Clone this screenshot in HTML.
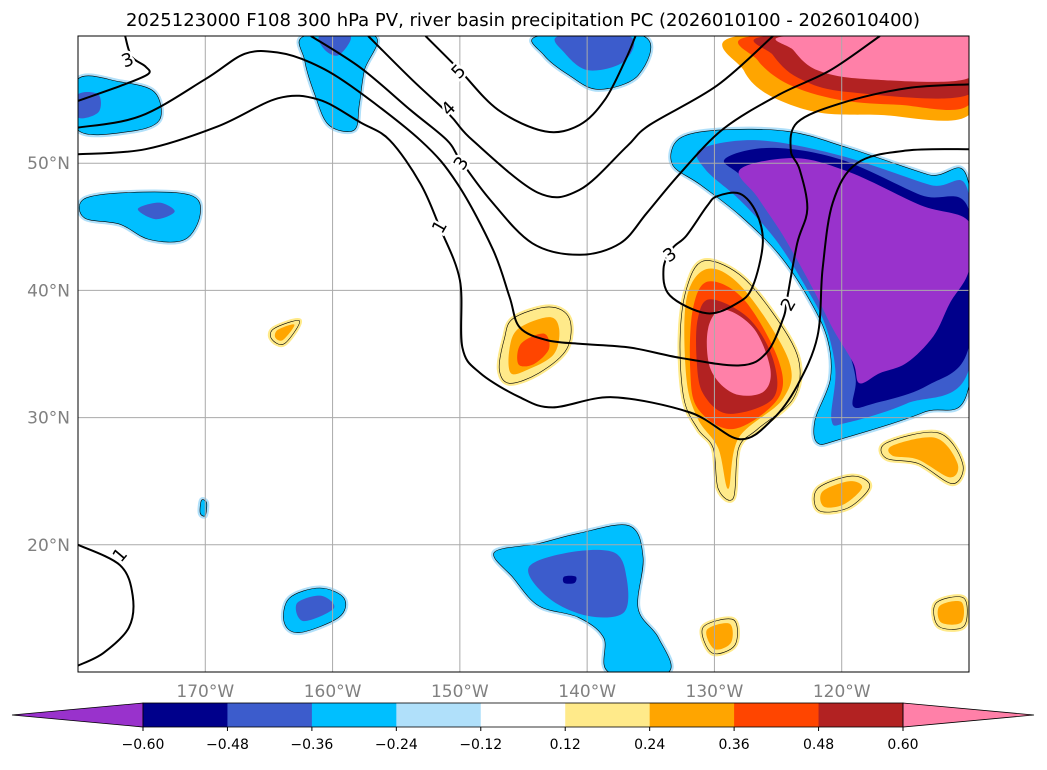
<!DOCTYPE html>
<html><head><meta charset="utf-8"><style>
body{margin:0;background:#fff;font-family:"Liberation Sans",sans-serif;}
svg text{font-family:"DejaVu Sans","Liberation Sans",sans-serif;}
</style></head><body>
<svg id="chart" width="1047" height="765" viewBox="0 0 1047 765" xmlns="http://www.w3.org/2000/svg">
<text x="523" y="26" text-anchor="middle" font-size="18" fill="#000">2025123000 F108 300 hPa PV, river basin precipitation PC (2026010100 - 2026010400)</text>
<defs><clipPath id="mc"><rect x="78" y="36" width="891" height="636"/></clipPath></defs>
<g id="fills" clip-path="url(#mc)"></g>
<g id="grid"></g>
<g id="pv" clip-path="url(#mc)"></g>
<rect x="78" y="36" width="891" height="636" fill="none" stroke="#000" stroke-width="1"/>
<g id="labels"></g>
<g id="cbar"></g>
</svg>
<script>
const NS='http://www.w3.org/2000/svg';
const lonTicks=[-170,-160,-150,-140,-130,-120];
const lonLabels=['170°W','160°W','150°W','140°W','130°W','120°W'];
const latTicks=[20,30,40,50];
const latLabels=['20°N','30°N','40°N','50°N'];
const cbLevels=['−0.60','−0.48','−0.36','−0.24','−0.12','0.12','0.24','0.36','0.48','0.60'];
const cbColors=['#9932cc','#00008b','#3c5ccc','#00bfff','#b0e0fa','#ffffff','#ffea8a','#ffa500','#ff4500','#b22222','#ff80a8'];
const LON0=-180,LON1=-110,LAT0=10,LAT1=60;
function X(lon){return 78+(lon-LON0)/(LON1-LON0)*891;}
function Y(lat){return 36+(LAT1-lat)/(LAT1-LAT0)*636;}
// precipitation PC shapes: [colorIndex, [[lon,lat],...]]
const blobs=[
[3,[[-132.8,51.9],[-129.7,52.6],[-124.2,52.5],[-119.5,51.2],[-113.2,49.1],[-110,48.3],[-110,32.5],[-113.6,30.4],[-120.1,28.3],[-121.9,28.0],[-122.1,29.8],[-120.9,33.0],[-121.1,36.1],[-122.5,39.2],[-124.9,42.8],[-128.0,45.9],[-131.1,48.3],[-133.3,49.9]]],
[2,[[-131.1,51.1],[-126.6,51.8],[-120.1,50.6],[-113.1,48.3],[-110,47.5],[-110,33.8],[-114.9,31.1],[-119.6,29.6],[-120.8,29.8],[-120.5,33.7],[-121.3,37.3],[-122.9,40.4],[-125.2,44.0],[-128.0,47.1],[-130.7,49.5]]],
[1,[[-129.2,50.3],[-125.6,51.2],[-120.1,50.3],[-113.8,47.5],[-110,46.3],[-110,35.6],[-113.3,32.5],[-117.5,31.1],[-119.1,30.9],[-118.9,33.0],[-119.6,35.7],[-120.9,39.2],[-124.1,44.4],[-127.6,48.7]]],
[0,[[-128.0,49.5],[-123.7,50.4],[-119.4,49.3],[-113.8,46.7],[-110,45.4],[-110,41.6],[-111.5,39.0],[-112.8,36.4],[-114.9,34.3],[-117.0,33.5],[-118.6,32.7],[-119.1,34.3],[-120.7,37.0],[-122.3,40.2],[-124.6,44.3],[-126.6,47.3]]],
[7,[[-128.1,60],[-127.7,57.3],[-125.8,55.4],[-121.9,54.0],[-117.1,53.8],[-110,53.8],[-110,60]]],
[8,[[-126.9,60],[-126.6,58.1],[-124.2,56.2],[-120.3,55.0],[-115.6,54.6],[-110,54.6],[-110,60]]],
[9,[[-125.8,60],[-125.4,58.5],[-123.4,56.7],[-119.5,55.6],[-110,55.4],[-110,60]]],
[10,[[-124.2,60],[-123.8,58.9],[-121.9,57.3],[-117.9,56.6],[-110,56.7],[-110,60]]],
[6,[[-130.9,42.3],[-128.1,41.3],[-125.4,38.2],[-123.4,34.6],[-123.8,31.5],[-126.6,29.1],[-128.1,27.6],[-128.5,23.7],[-129.7,24.4],[-130.1,27.6],[-131.3,29.1],[-132.4,31.5],[-132.7,36.2],[-132.2,40.1]]],
[7,[[-130.5,41.7],[-127.7,40.1],[-124.2,34.6],[-124.6,31.5],[-128.1,28.4],[-128.9,24.4],[-129.7,27.6],[-131.3,29.9],[-132.2,33.1],[-132.2,39.3]]],
[8,[[-130.5,40.7],[-127.7,39.3],[-125.0,34.6],[-125.0,31.5],[-128.5,29.1],[-131.3,30.7],[-131.9,33.8],[-131.7,38.5]]],
[9,[[-130.3,39.3],[-127.3,37.8],[-125.4,34.6],[-125.4,31.5],[-128.9,30.3],[-130.9,31.9],[-131.4,34.6],[-131.3,37.8]]],
[10,[[-129.3,38.5],[-126.9,37.0],[-125.6,33.8],[-126.2,32.0],[-128.5,31.9],[-130.3,33.8],[-130.5,37.0]]],
[6,[[-145.8,37.8],[-143.0,38.7],[-141.4,37.8],[-141.6,35.4],[-143.8,33.5],[-146.1,32.7],[-146.9,33.8],[-146.5,36.2]]],
[7,[[-145.4,37.0],[-143.0,37.9],[-142.2,37.0],[-142.6,35.0],[-144.6,33.8],[-146.0,33.5],[-146.1,35.4]]],
[8,[[-145.2,35.8],[-143.4,36.6],[-143.0,35.4],[-144.2,34.2],[-145.4,34.2]]],
[3,[[-147.3,19.4],[-143.8,20.1],[-140.7,20.9],[-136.7,21.5],[-135.6,19.0],[-136.0,15.0],[-134.4,12.7],[-133.6,10],[-138.3,10],[-138.7,12.7],[-140.7,14.3],[-143.8,15.2],[-145.8,17.4]]],
[2,[[-144.6,18.2],[-141.4,19.4],[-137.9,19.4],[-136.9,17.4],[-137.1,14.7],[-139.9,14.4],[-143.0,15.8]]],
[1,[[-141.8,17.5],[-140.9,17.5],[-141.0,17.0],[-141.8,17.0]]],
[3,[[-180,56.6],[-176.7,56.4],[-174.0,55.6],[-173.6,53.4],[-175.9,52.5],[-180,52.6]]],
[2,[[-180,55.4],[-178.4,55.4],[-178.4,54.0],[-180,53.6]]],
[3,[[-162.2,60],[-156.7,60],[-157.5,57.3],[-157.9,54.6],[-158.3,52.6],[-160.3,53.0],[-161.4,55.4],[-162.2,58.1]]],
[2,[[-161.0,60],[-158.6,60],[-159.5,58.5],[-160.6,58.9]]],
[3,[[-143.8,60],[-135.6,60],[-136.0,56.9],[-139.1,55.8],[-141.4,56.9],[-143.4,58.5]]],
[2,[[-142.2,60],[-136.7,60],[-137.1,58.0],[-139.9,57.3],[-141.8,58.7]]],
[3,[[-179.5,47.2],[-175.9,47.7],[-171.2,47.5],[-170.4,46.0],[-171.6,44.0],[-174.4,44.0],[-176.7,45.2],[-179.5,45.7]]],
[2,[[-175.3,46.4],[-173.6,46.9],[-172.4,46.2],[-173.9,45.6]]],
[3,[[-163.4,15.8],[-161.0,16.6],[-159.1,15.8],[-159.5,14.3],[-162.6,13.1],[-163.8,13.9]]],
[2,[[-162.8,15.4],[-160.9,16.0],[-159.9,15.0],[-162.3,14.0]]],
[3,[[-170.3,23.5],[-169.9,23.3],[-170.0,22.3],[-170.4,22.5]]],
[6,[[-121.9,24.4],[-119.2,25.4],[-117.8,24.6],[-119.5,22.9],[-121.8,22.7]]],
[7,[[-121.5,24.2],[-119.4,25.0],[-118.4,24.5],[-119.8,23.2],[-121.4,23.0]]],
[6,[[-116.5,28.0],[-112.4,28.8],[-110.5,26.4],[-111.3,24.8],[-114.0,26.4],[-116.5,26.8]]],
[7,[[-116.0,27.8],[-112.6,28.4],[-110.9,26.4],[-111.5,25.3],[-114.0,26.7],[-116.0,27.0]]],
[6,[[-130.9,13.5],[-128.5,14.1],[-128.4,12.1],[-130.2,11.5]]],
[7,[[-130.6,13.3],[-128.8,13.8],[-128.7,12.3],[-130.0,11.8]]],
[6,[[-112.6,15.4],[-110.4,15.8],[-110.4,13.6],[-112.4,13.6]]],
[7,[[-112.3,15.2],[-110.6,15.5],[-110.6,13.9],[-112.2,13.9]]],
[6,[[-164.6,37.0],[-162.6,37.6],[-163.8,35.8],[-164.8,36.2]]],
[7,[[-164.3,36.9],[-163.0,37.3],[-163.9,36.1],[-164.5,36.3]]]
];
// PV contours: [label, closed, [[lon,lat],...]]
const pvLines=[
['1',false,[[-180,50.7],[-174.7,51.1],[-169.0,52.9],[-164.3,55.1],[-161.1,55.0],[-157.8,53.2],[-155.5,51.8],[-153.1,48.4],[-151.6,45.0],[-150.0,40.8],[-149.8,35.5],[-148.4,33.5],[-145.3,31.6],[-142.7,30.8],[-138.0,31.6],[-131.9,30.4],[-128.0,28.3],[-125.4,29.9],[-123.5,32.5],[-121.9,36.4],[-121.5,41.7],[-120.7,46.9],[-118.8,50.0],[-114.9,51.0],[-109.9,51.1]]],
['2',false,[[-180,52.8],[-175.1,53.7],[-170.0,56.6],[-166.9,58.6],[-164.3,58.7],[-161.7,57.9],[-158.6,56.1],[-153.1,51.8],[-150.2,48.4],[-147.4,43.2],[-146.1,39.5],[-145.3,37.1],[-143.2,36.1],[-140.6,35.8],[-136.6,35.5],[-132.7,34.7],[-128.0,34.1],[-125.9,35.1],[-124.6,37.8],[-124.3,39.3],[-123.5,43.7],[-122.7,46.4],[-123.3,49.5],[-124.0,51.0],[-123.5,53.2],[-120.1,54.7],[-114.9,55.9],[-109.9,56.2]]],
['3',false,[[-180,54.9],[-176.6,56.1],[-174.5,57.0],[-174.7,57.6],[-175.8,58.4],[-176.3,60]]],
['3',false,[[-161.7,60],[-157.8,57.5],[-153.9,54.2],[-151.0,51.8],[-150.0,50.3],[-147.6,47.1],[-144.3,43.7],[-140.6,42.8],[-137.4,43.7],[-135.3,46.1],[-132.7,49.2],[-129.3,52.7],[-124.9,55.4],[-120.9,57.3],[-117.0,60]]],
['3',true,[[-129.8,47.4],[-128.0,47.6],[-126.7,46.1],[-126.2,43.7],[-127.0,40.3],[-128.2,39.0],[-130.6,38.2],[-133.5,39.6],[-134.0,41.7],[-133.3,43.3],[-132.2,44.3],[-130.6,46.6]]],
['4',false,[[-157.2,60],[-153.8,56.6],[-150.8,53.8],[-149.0,51.8],[-143.9,47.7],[-140.6,47.9],[-136.9,51.3],[-135.1,53.0],[-129.8,56.1],[-125.4,60]]],
['5',false,[[-152.7,60],[-150.1,57.4],[-147.0,54.2],[-143.3,52.5],[-140.6,53.0],[-138.6,55.0],[-137.0,58.1],[-136.2,60]]],
['1',false,[[-180,20.0],[-176.7,18.4],[-175.7,16.0],[-176.0,13.5],[-178.0,11.5],[-180,10.5]]]
];
const labelPos=[[-151.6,45.0],[-124.2,38.9],[-176.1,58.1],[-149.9,50.0],[-133.5,42.8],[-150.9,54.3],[-150.1,57.2],[-176.7,19.2]];
const labelRot=[-60,-60,-20,-55,-35,-45,-45,-50];
function mk(tag,attrs,parent){const e=document.createElementNS(NS,tag);for(const k in attrs)e.setAttribute(k,attrs[k]);parent.appendChild(e);return e;}
function smooth(a,closed){
 const p=a.map(q=>[X(q[0]),Y(q[1])]);const n=p.length;
 const g=i=>closed?p[(i+n)%n]:p[Math.max(0,Math.min(n-1,i))];
 let d='M'+p[0][0].toFixed(1)+','+p[0][1].toFixed(1);
 const last=closed?n:n-1;
 for(let i=0;i<last;i++){
  const p0=g(i-1),p1=g(i),p2=g(i+1),p3=g(i+2);
  const c1=[p1[0]+(p2[0]-p0[0])/6,p1[1]+(p2[1]-p0[1])/6];
  const c2=[p2[0]-(p3[0]-p1[0])/6,p2[1]-(p3[1]-p1[1])/6];
  d+=`C${c1[0].toFixed(1)},${c1[1].toFixed(1)} ${c2[0].toFixed(1)},${c2[1].toFixed(1)} ${p2[0].toFixed(1)},${p2[1].toFixed(1)}`;
 }
 return d+(closed?'Z':'');
}
const fills=document.getElementById('fills');
blobs.forEach((b,i)=>{
 const d=smooth(b[1],true);
 if(b[0]==3||b[0]==6){
  const h=mk('path',{d:d,fill:'none',stroke:b[0]==3?'#b0e0fa':'#ffea8a','stroke-width':5,'stroke-linejoin':'round'},fills);
  
  
 }
 const e=mk('path',{d:d,fill:cbColors[b[0]],stroke:'none'},fills);
 
 
 if(b[0]==3||b[0]==6){
  const o=mk('path',{d:d,fill:'none',stroke:'#000','stroke-width':0.6},fills);
  
  
 }
});
const grid=document.getElementById('grid'),lab=document.getElementById('labels');
lonTicks.forEach((t,i)=>{
 const l=mk('line',{x1:X(t),x2:X(t),y1:36,y2:672,stroke:'#aaa','stroke-width':1},grid);
 
 
 const tx=mk('text',{x:X(t),y:697,'text-anchor':'middle','font-size':17,fill:'#808080'},lab);tx.textContent=lonLabels[i];
 
 
});
latTicks.forEach((t,i)=>{
 const l=mk('line',{x1:78,x2:969,y1:Y(t),y2:Y(t),stroke:'#aaa','stroke-width':1},grid);
 
 
 const tx=mk('text',{x:70,y:Y(t)+6,'text-anchor':'end','font-size':17,fill:'#808080'},lab);tx.textContent=latLabels[i];
 
 
});
const pv=document.getElementById('pv');
pvLines.forEach((c,i)=>{
 const e=mk('path',{d:smooth(c[2],c[1]),fill:'none',stroke:'#000','stroke-width':2,'stroke-linejoin':'round'},pv);
 
 
});
pvLines.forEach((c,i)=>{
 const p=labelPos[i],x=X(p[0]),y=Y(p[1]);
 const t=mk('text',{x:x,y:y+6,'text-anchor':'middle','font-size':18,fill:'#000',stroke:'#fff','stroke-width':5,'paint-order':'stroke',transform:`rotate(${labelRot[i]} ${x} ${y})`},pv);t.textContent=c[0];
 
 
});
// colorbar
const cb=document.getElementById('cbar');
const cbX0=143,cbX1=903,cbY=703,cbH=24,n=cbColors.length-2,w=(cbX1-cbX0)/n;
let e=mk('polygon',{points:`${cbX0},${cbY} 12,${cbY+cbH/2} ${cbX0},${cbY+cbH}`,fill:cbColors[0],stroke:'#000','stroke-width':0.8},cb);


for(let i=0;i<n;i++){
 const r=mk('rect',{x:cbX0+i*w,y:cbY,width:w+0.5,height:cbH,fill:cbColors[i+1]},cb);
 
 
}
e=mk('polygon',{points:`${cbX1},${cbY} 1034,${cbY+cbH/2} ${cbX1},${cbY+cbH}`,fill:cbColors[cbColors.length-1],stroke:'#000','stroke-width':0.8},cb);


mk('rect',{x:cbX0,y:cbY,width:cbX1-cbX0,height:cbH,fill:'none',stroke:'#000','stroke-width':0.8},cb);
cbLevels.forEach((v,i)=>{
 const x=cbX0+i*w;
 mk('line',{x1:x,x2:x,y1:cbY+cbH,y2:cbY+cbH+4,stroke:'#000'},cb);
 const t=mk('text',{x:x,y:cbY+cbH+22,'text-anchor':'middle','font-size':14,fill:'#000'},cb);t.textContent=v;
 
 
});
</script>
</body></html>
